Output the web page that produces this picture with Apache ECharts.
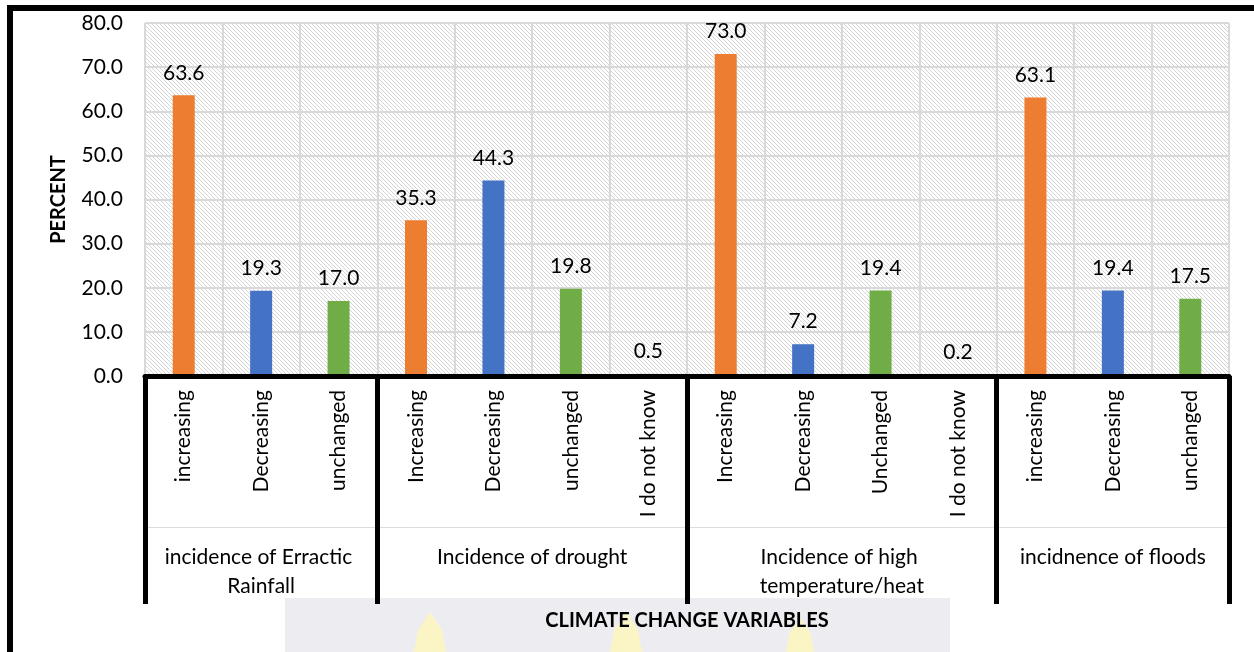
<!DOCTYPE html>
<html>
<head>
<meta charset="utf-8">
<script src="https://cdn.jsdelivr.net/npm/echarts@6/dist/echarts.min.js"></script>
<style>
  html, body { margin: 0; padding: 0; background: #fff; }
  #chart { width: 1254px; height: 652px; }
</style>
</head>
<body>
<div id="chart"></div>
<script>
// ---- data ----
const categories = ['increasing', 'Decreasing', 'unchanged',
  'Increasing', 'Decreasing', 'unchanged', 'I do not know',
  'Increasing', 'Decreasing', 'Unchanged', 'I do not know',
  'increasing', 'Decreasing', 'unchanged'];
const values = [63.6, 19.3, 17.0, 35.3, 44.3, 19.8, 0.5, 73.0, 7.2, 19.4, 0.2, 63.1, 19.4, 17.5];
const groups = ['incidence of Erractic Rainfall', 'Incidence of drought',
  'Incidence of high temperature/heat', 'incidnence of floods'];
const groupSizes = [3, 4, 4, 3];
const yTicks = [0, 10, 20, 30, 40, 50, 60, 70, 80];
const yAxisTitle = 'PERCENT';
const xAxisTitle = 'CLIMATE CHANGE VARIABLES';

// ---- styling helpers ----
const responseColors = {
  'increasing': '#ED7D31',
  'decreasing': '#4472C4',
  'unchanged': '#70AD47',
  'i do not know': '#A5A5A5'
};
const FONT = 'Lato';
const FS = 21;

// group start indices and centres (in category units)
const groupStarts = [];
const groupCentres = [];
let acc = 0;
groupSizes.forEach(function (n) {
  groupStarts.push(acc);
  groupCentres.push(acc + (n - 1) / 2);
  acc += n;
});

// hatch pattern for plot background
const pc = document.createElement('canvas');
pc.width = 8; pc.height = 8;
const pctx = pc.getContext('2d');
pctx.fillStyle = '#ffffff';
pctx.fillRect(0, 0, 8, 8);
pctx.strokeStyle = '#d4d4d4';
pctx.lineWidth = 1;
for (let k = -8; k <= 8; k += 4) {
  pctx.beginPath();
  pctx.moveTo(0, k);
  pctx.lineTo(8, 8 + k);
  pctx.stroke();
}

const chart = echarts.init(document.getElementById('chart'), null, { renderer: 'canvas' });

const option = {
  animation: false,
  backgroundColor: '#ffffff',
  textStyle: { fontFamily: FONT },
  grid: {
    left: 145, right: 25, top: 23, bottom: 276,
    containLabel: false,
    outerBoundsMode: 'none',
    show: true,
    backgroundColor: { image: pc, repeat: 'repeat' },
    borderWidth: 0
  },
  graphic: [
    { type: 'rect', z: -5, shape: { x: 285, y: 598, width: 665, height: 54 },
      style: { fill: '#ececf1' } },
    { type: 'polygon', z: -4, shape: { points: [[430, 612], [442, 630], [446, 652], [414, 652], [418, 630]] },
      style: { fill: '#fbf5c6' } },
    { type: 'polygon', z: -4, shape: { points: [[626, 612], [638, 630], [642, 652], [610, 652], [614, 630]] },
      style: { fill: '#fbf5c6' } },
    { type: 'polygon', z: -4, shape: { points: [[800, 618], [811, 634], [814, 652], [786, 652], [789, 634]] },
      style: { fill: '#fbf5c6' } },
    { type: 'rect', z: 10, shape: { x: 7, y: 5, width: 6, height: 660 }, style: { fill: '#000' } },
    { type: 'rect', z: 10, shape: { x: 7, y: 5, width: 1260, height: 6 }, style: { fill: '#000' } }
  ],
  xAxis: [
    {
      type: 'category',
      data: categories,
      position: 'bottom',
      boundaryGap: true,
      axisLine: { show: true, lineStyle: { color: '#000', width: 5 } },
      axisTick: {
        show: true,
        length: 228,
        interval: function (index) { return groupStarts.indexOf(index) >= 0; },
        lineStyle: { color: '#000', width: 5 }
      },
      axisLabel: {
        rotate: 90, interval: 0, margin: 14,
        fontSize: FS, color: '#000', fontFamily: FONT
      },
      splitLine: { show: true, interval: 0, lineStyle: { color: '#d9d9d9', width: 2 } },
      z: 5
    },
    {
      type: 'value',
      position: 'bottom',
      offset: 151,
      min: -0.5,
      max: categories.length - 0.5,
      interval: 0.5,
      axisLine: { show: true, onZero: false, lineStyle: { color: '#dcdcdc', width: 1 } },
      axisTick: { show: false },
      splitLine: { show: false },
      axisLabel: {
        margin: 16, fontSize: FS, color: '#000', fontFamily: FONT,
        width: 225, overflow: 'break', lineHeight: 29, align: 'center',
        showMinLabel: true, showMaxLabel: true,
        formatter: function (v) {
          const i = groupCentres.findIndex(function (c) { return Math.abs(c - v) < 1e-6; });
          return i >= 0 ? groups[i] : '';
        }
      },
      name: xAxisTitle,
      nameLocation: 'middle',
      nameGap: 84,
      nameTextStyle: { fontSize: 20, fontWeight: 'bold', color: '#000', fontFamily: FONT }
    }
  ],
  yAxis: {
    type: 'value',
    min: yTicks[0],
    max: yTicks[yTicks.length - 1],
    interval: yTicks[1] - yTicks[0],
    axisLine: { show: false },
    axisTick: { show: false },
    axisLabel: {
      margin: 22, fontSize: FS, color: '#000', fontFamily: FONT,
      formatter: function (v) { return v.toFixed(1); }
    },
    splitLine: { show: true, lineStyle: { color: '#d9d9d9', width: 2 } },
    name: yAxisTitle,
    nameLocation: 'middle',
    nameGap: 76,
    nameTextStyle: { fontSize: 20, fontWeight: 'bold', color: '#000', fontFamily: FONT }
  },
  series: [{
    type: 'bar',
    xAxisIndex: 0,
    barWidth: 22,
    data: values.map(function (v, i) {
      return { value: v, itemStyle: { color: responseColors[categories[i].toLowerCase()] } };
    }),
    label: {
      show: true, position: 'top', distance: 12,
      fontSize: FS, color: '#000', fontFamily: FONT,
      formatter: function (p) { return Number(p.value).toFixed(1); }
    },
    z: 3
  }]
};

chart.setOption(option);
</script>
</body>
</html>
